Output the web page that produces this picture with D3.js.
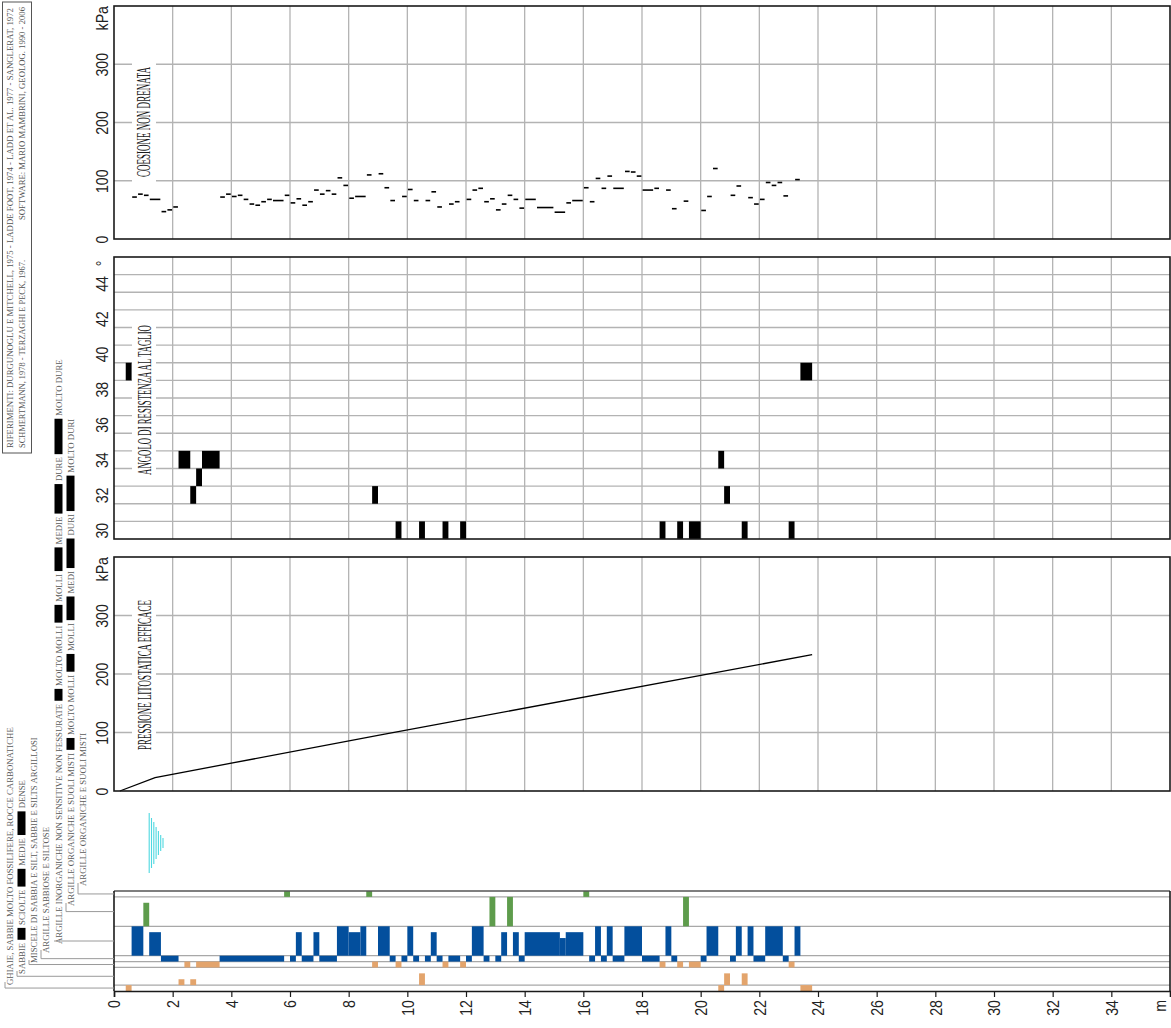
<!DOCTYPE html>
<html><head><meta charset="utf-8">
<script src="https://cdn.jsdelivr.net/npm/d3@7"></script>
<style>body{margin:0;background:#fff}svg{display:block}</style>
</head><body><svg id="c" width="1171" height="1028"></svg>
<script>
// ---------------- DATA ----------------
const depthTicks = [0,2,4,6,8,10,12,14,16,18,20,22,24,26,28,30,32,34];
const kpaTicks = [0,100,200,300];
const angleTicks = [30,32,34,36,38,40,42,44];

// undrained cohesion [from m, to m, kPa]
const cohesion = [
 [0.6,0.8,72],[0.8,1.0,77],[1.0,1.2,75],[1.2,1.6,68],[1.6,1.8,47],[1.8,2.0,50],[2.0,2.2,55],
 [3.6,3.8,72],[3.8,4.0,77],[4.0,4.2,73],[4.2,4.4,75],[4.4,4.6,68],[4.6,4.8,60],[4.8,5.0,58],
 [5.0,5.2,64],[5.2,5.4,68],[5.4,5.8,66],[5.8,6.0,75],[6.0,6.2,62],[6.2,6.4,69],[6.4,6.6,58],
 [6.6,6.8,64],[6.8,7.0,84],[7.0,7.2,77],[7.2,7.4,83],[7.4,7.6,77],[7.6,7.8,105],[7.8,8.0,92],
 [8.0,8.2,70],[8.2,8.6,73],[8.6,8.8,110],[9.0,9.2,112],[9.2,9.4,88],[9.4,9.6,66],[9.8,10.0,73],
 [10.0,10.2,85],[10.2,10.4,66],[10.6,10.8,66],[10.8,11.0,81],[11.0,11.2,55],[11.4,11.6,60],
 [11.6,11.8,64],[12.0,12.2,68],[12.2,12.4,84],[12.4,12.6,87],[12.6,12.8,64],[12.8,13.0,69],
 [13.0,13.2,50],[13.2,13.4,60],[13.4,13.6,75],[13.6,13.8,68],[13.8,14.0,53],[14.0,14.4,68],
 [14.4,15.0,54],[15.0,15.4,46],[15.4,15.6,62],[15.6,16.0,66],[16.0,16.2,88],[16.2,16.4,64],
 [16.4,16.6,104],[16.6,16.8,87],[16.8,17.0,108],[17.0,17.4,87],[17.4,17.6,116],[17.6,17.8,115],
 [17.8,18.0,108],[18.0,18.4,84],[18.4,18.6,87],[18.8,19.0,84],[19.0,19.2,52],[19.4,19.6,65],
 [20.0,20.2,49],[20.2,20.4,73],[20.4,20.6,121],[21.0,21.2,75],[21.2,21.4,91],[21.6,21.8,71],
 [21.8,22.0,60],[22.0,22.2,68],[22.2,22.4,97],[22.4,22.6,92],[22.6,22.8,97],[22.8,23.0,74],
 [23.2,23.4,102]
];

// friction angle [from m, to m, degrees]
const angle = [
 [0.4,0.6,39],[2.2,2.6,34],[2.6,2.8,32],[2.8,3.0,33],[3.0,3.6,34],[8.8,9.0,32],[9.6,9.8,30],
 [10.4,10.6,30],[11.2,11.4,30],[11.8,12.0,30],[18.6,18.8,30],[19.2,19.4,30],[19.6,20.0,30],
 [20.6,20.8,34],[20.8,21.0,32],[21.4,21.6,30],[23.0,23.2,30],[23.4,23.8,39]
];

// effective lithostatic pressure [depth m, kPa]
const pressure = [[0.2,0],[1.4,23],[9.0,95],[23.8,233]];
const waterTable = 1.2;

// stratigraphy rows (top to bottom) and number of consistency levels
const rowKeys   = ["T","AO","AI","AS","M","S","G"];
const rowLevels = [1,5,5,1,1,3,1];
// [from m, to m, row, level]
const strata = [
 [0.4,0.6,"G",1],[0.6,1.0,"AI",5],[1.0,1.2,"AO",4],[1.2,1.6,"AI",4],[1.6,2.2,"AS",1],
 [2.2,2.4,"S",1],[2.4,2.6,"M",1],[2.6,2.8,"S",1],[2.8,3.6,"M",1],[3.6,5.8,"AS",1],
 [5.8,6.0,"T",1],[6.0,6.2,"AS",1],[6.2,6.4,"AI",4],[6.4,6.8,"AS",1],[6.8,7.0,"AI",4],
 [7.0,7.6,"AS",1],[7.6,8.0,"AI",5],[8.0,8.4,"AI",4],[8.4,8.6,"AI",5],[8.6,8.8,"T",1],
 [8.8,9.0,"M",1],[9.0,9.4,"AI",5],[9.4,9.6,"AS",1],[9.6,9.8,"M",1],[9.8,10.0,"AS",1],
 [10.0,10.2,"AI",5],[10.2,10.4,"AS",1],[10.4,10.6,"S",2],[10.6,10.8,"AS",1],[10.8,11.0,"AI",4],
 [11.0,11.2,"AS",1],[11.2,11.4,"M",1],[11.4,11.8,"AS",1],[11.8,12.0,"M",1],[12.0,12.2,"AS",1],
 [12.2,12.6,"AI",5],[12.6,12.8,"AS",1],[12.8,13.0,"AO",5],[13.0,13.2,"AS",1],[13.2,13.4,"AI",4],
 [13.4,13.6,"AO",5],[13.6,13.8,"AI",4],[13.8,14.0,"AS",1],[14.0,15.2,"AI",4],[15.2,15.4,"AI",3],
 [15.4,16.0,"AI",4],[16.0,16.2,"T",1],[16.2,16.4,"AS",1],[16.4,16.6,"AI",5],[16.6,16.8,"AS",1],
 [16.8,17.0,"AI",5],[17.0,17.4,"AS",1],[17.4,18.0,"AI",5],[18.0,18.6,"AS",1],[18.6,18.8,"M",1],
 [18.8,19.0,"AI",5],[19.0,19.2,"AS",1],[19.2,19.4,"M",1],[19.4,19.6,"AO",5],[19.6,20.0,"M",1],
 [20.0,20.2,"AS",1],[20.2,20.6,"AI",5],[20.6,20.8,"G",1],[20.8,21.0,"S",2],[21.0,21.2,"AS",1],
 [21.2,21.4,"AI",5],[21.4,21.6,"S",2],[21.6,21.8,"AI",5],[21.8,22.2,"AS",1],[22.2,22.8,"AI",5],
 [22.8,23.0,"AS",1],[23.0,23.2,"M",1],[23.2,23.4,"AI",5],[23.4,23.8,"G",1]
];

const panelTitles = ["COESIONE NON DRENATA","ANGOLO DI RESISTENZA AL TAGLIO","PRESSIONE LITOSTATICA EFFICACE"];
const refLines = [
 "RIFERIMENTI: DURGUNOGLU E MITCHELL, 1975 - LADDE FOOT, 1974 - LADD ET AL. 1977 - SANGLERAT, 1972",
 "SCHMERTMANN, 1978 - TERZAGHI E PECK, 1967.",
 "SOFTWARE: MARIO MAMBRINI, GEOLOG. 1990 - 2006"
];
// legend: row key + pieces (strings = text, numbers = swatch level)
const legendItems = [
 ["G",  ["GHIAIE, SABBIE MOLTO FOSSILIFERE, ROCCE CARBONATICHE"]],
 ["S",  ["SABBIE",1,"SCIOLTE",2,"MEDIE",3,"DENSE"]],
 ["M",  ["MISCELE DI SABBIA E SILT, SABBIE E SILTS ARGILLOSI"]],
 ["AS", ["ARGILLE SABBIOSE E SILTOSE"]],
 ["AI", ["ARGILLE INORGANICHE NON SENSITIVE NON FESSURATE",1,"MOLTO MOLLI",2,"MOLLI",3,"MEDIE",4,"DURE",5,"MOLTO DURE"]],
 ["AO", ["ARGILLE ORGANICHE E SUOLI MISTI",1,"MOLTO MOLLI",2,"MOLLI",3,"MEDI",4,"DURI",5,"MOLTO DURI"]],
 ["T",  ["ARGILLE ORGANICHE E SUOLI MISTI"]]
];

// ---------------- STYLE / LAYOUT ----------------
const rowColor = {T:"#5e9c4c",AO:"#5e9c4c",AI:"#034f9d",AS:"#034f9d",M:"#e3a46c",S:"#e3a46c",G:"#e3a46c"};
const GRID = "#b3b3b3", FRAME = "#1a1a1a";
const svg = d3.select("#c");
const X0 = 114, X1 = 1170;
const x = d3.scaleLinear().domain([0,36]).range([X0,X1]);
const yC = d3.scaleLinear().domain([0,400]).range([239,6]);
const yA = d3.scaleLinear().domain([29.5,45.5]).range([539,257]);
const yP = d3.scaleLinear().domain([0,400]).range([791,557]);
const S_TOP = 891, S_BOT = 991;
const unit = (S_BOT - S_TOP) / d3.sum(rowLevels);
const rowTop = {}, rowBot = {};
{ let acc = S_TOP; rowKeys.forEach((k,i)=>{ rowTop[k]=acc; acc += rowLevels[i]*unit; rowBot[k]=acc; }); }

const gridDepths = depthTicks.filter(d=>d>0);

function vgrid(y0,y1){
  svg.append("g").selectAll("line").data(gridDepths).join("line")
    .attr("x1",d=>x(d)).attr("x2",d=>x(d)).attr("y1",y0).attr("y2",y1)
    .attr("stroke",GRID).attr("stroke-width",1.3);
}
function hgrid(scale, vals){
  svg.append("g").selectAll("line").data(vals).join("line")
    .attr("x1",X0).attr("x2",X1).attr("y1",d=>scale(d)).attr("y2",d=>scale(d))
    .attr("stroke",GRID).attr("stroke-width",1.3);
}
function frame(y0,y1){
  svg.append("rect").attr("x",X0).attr("y",y0).attr("width",X1-X0).attr("height",y1-y0)
    .attr("fill","none").attr("stroke",FRAME).attr("stroke-width",1.6);
}
function leftAxis(scale, vals, unitLabel, unitAt){
  const g = svg.append("g").attr("transform",`translate(${X0},0)`)
    .call(d3.axisLeft(scale).tickValues(vals).tickSize(0));
  g.select(".domain").remove();
  g.selectAll("text").attr("x",0).attr("dy","0.36em").attr("text-anchor","middle")
    .attr("transform","translate(-11.5,0) rotate(-90) scale(0.86,1)")
    .attr("font-family","Liberation Sans, Arial, sans-serif").attr("font-size",16.5).attr("fill","#222");
  g.append("text").attr("transform",`translate(-11.5,${scale(unitAt)}) rotate(-90) scale(0.86,1)`)
    .attr("dy","0.36em").attr("text-anchor","end")
    .attr("font-family","Liberation Sans, Arial, sans-serif").attr("font-size",16.5).attr("fill","#222")
    .text(unitLabel);
}
function panelTitle(txt, cx, cy, len, box){
  svg.append("rect").attr("x",box[0]).attr("y",box[1]).attr("width",box[2]).attr("height",box[3]).attr("fill","#fff");
  const t = svg.append("text").attr("dy","0.35em").attr("text-anchor","middle")
    .attr("font-family","Liberation Serif, Times New Roman, serif").attr("font-size",19)
    .attr("fill","#1a1a1a").text(txt);
  const nat = t.node().getComputedTextLength();
  t.attr("transform",`translate(${cx},${cy}) rotate(-90) scale(${len/nat},1)`);
}

// ---------- Panel 1: cohesion ----------
vgrid(6,239); hgrid(yC,[100,200,300]);
panelTitle(panelTitles[0],143.5,122,110,[132,56,24,134]);
svg.append("g").selectAll("line").data(cohesion).join("line")
  .attr("x1",d=>x(d[0])+0.6).attr("x2",d=>x(d[1])-0.6)
  .attr("y1",d=>yC(d[2])).attr("y2",d=>yC(d[2]))
  .attr("stroke","#000").attr("stroke-width",1.6);
frame(6,239);
leftAxis(yC,kpaTicks,"kPa",400);

// ---------- Panel 2: friction angle ----------
vgrid(257,539); hgrid(yA,d3.range(30.5,45.5,1));
panelTitle(panelTitles[1],144,400,150,[132,318,24,164]);
svg.append("g").selectAll("rect").data(angle).join("rect")
  .attr("x",d=>x(d[0])).attr("width",d=>x(d[1])-x(d[0]))
  .attr("y",d=>yA(d[2]+0.5)).attr("height",d=>yA(d[2]-0.5)-yA(d[2]+0.5))
  .attr("fill","#000");
frame(257,539);
leftAxis(yA,angleTicks,"°",45.3);

// ---------- Panel 3: effective pressure ----------
vgrid(557,791); hgrid(yP,[100,200,300]);
panelTitle(panelTitles[2],144,675,150,[132,594,24,162]);
svg.append("path").datum(pressure)
  .attr("d",d3.line().x(d=>x(d[0])).y(d=>yP(d[1])))
  .attr("fill","none").attr("stroke","#000").attr("stroke-width",1.3);
frame(557,791);
leftAxis(yP,kpaTicks,"kPa",400);

// ---------- water table symbol ----------
const wtLens = [60,50,42,32,24,16,10];
svg.append("g").selectAll("line").data(wtLens).join("line")
  .attr("x1",(d,i)=>x(waterTable)+i*2.3).attr("x2",(d,i)=>x(waterTable)+i*2.3)
  .attr("y1",d=>843-d/2).attr("y2",d=>843+d/2)
  .attr("stroke","#4fd8e0").attr("stroke-width",1.1);

// ---------- Stratigraphy ----------
svg.append("g").selectAll("line").data(rowKeys.slice(1)).join("line")
  .attr("x1",X0).attr("x2",X1).attr("y1",k=>rowTop[k]).attr("y2",k=>rowTop[k])
  .attr("stroke","#a8a8a8").attr("stroke-width",1.3);
svg.append("g").selectAll("rect").data(strata).join("rect")
  .attr("x",d=>x(d[0])).attr("width",d=>x(d[1])-x(d[0]))
  .attr("y",d=>rowBot[d[2]]-d[3]*unit).attr("height",d=>d[3]*unit)
  .attr("fill",d=>rowColor[d[2]]);
svg.append("line").attr("x1",X0).attr("x2",X1).attr("y1",S_TOP).attr("y2",S_TOP).attr("stroke","#555").attr("stroke-width",1.6);
svg.append("line").attr("x1",X0).attr("x2",X0).attr("y1",S_TOP).attr("y2",S_BOT).attr("stroke",FRAME).attr("stroke-width",1.6);
svg.append("line").attr("x1",X1).attr("x2",X1).attr("y1",S_TOP).attr("y2",S_BOT).attr("stroke",FRAME).attr("stroke-width",1.6);

// bottom axis
const gx = svg.append("g").attr("transform",`translate(0,${S_BOT})`)
  .call(d3.axisBottom(x).tickValues(depthTicks.concat([36])).tickSize(6).tickFormat(d=>d===36?"m":d));
gx.select(".domain").attr("stroke",FRAME).attr("stroke-width",1.6);
gx.selectAll(".tick line").attr("stroke",FRAME).attr("stroke-width",1.2);
gx.selectAll(".tick").filter(d=>d===36).select("line").remove();
gx.selectAll("text").attr("y",0).attr("dy","0.36em").attr("text-anchor","end")
  .attr("transform",d=>`translate(${d===36?-10:0},9) rotate(-90) scale(0.86,1)`)
  .attr("font-family","Liberation Sans, Arial, sans-serif").attr("font-size",16.5).attr("fill","#222");

// ---------- References box ----------
const refG = svg.append("g").attr("font-family","Liberation Serif, Times New Roman, serif").attr("font-size",7.6).attr("fill","#555");
svg.append("rect").attr("x",2.5).attr("y",2).attr("width",29).attr("height",451).attr("fill","none").attr("stroke","#555").attr("stroke-width",1);
refG.append("text").attr("transform","translate(10.5,448) rotate(-90)").attr("dy","0.35em").attr("textLength",440).attr("lengthAdjust","spacingAndGlyphs").text(refLines[0]);
refG.append("text").attr("transform","translate(22.5,448) rotate(-90)").attr("dy","0.35em").attr("textLength",188).attr("lengthAdjust","spacingAndGlyphs").text(refLines[1]);
refG.append("text").attr("transform","translate(22.5,7) rotate(-90)").attr("dy","0.35em").attr("text-anchor","end").attr("textLength",213).attr("lengthAdjust","spacingAndGlyphs").text(refLines[2]);

// ---------- Legend ----------
const legX = {G:10,S:22,M:34,AS:46,AI:59,AO:71,T:83};
const legStart = {G:985,S:974,M:963,AS:953,AI:944,AO:906,T:886};
const LF = 1.1; // horizontal stretch of legend text
const legG = svg.append("g").attr("font-family","Liberation Serif, Times New Roman, serif").attr("font-size",8).attr("fill","#5a5a5a");
legendItems.forEach(([k,pieces])=>{
  const lx = legX[k]; let y = legStart[k];
  const cy = (rowTop[k]+rowBot[k])/2;
  svg.append("path").attr("d",`M${lx-5},${y-3}L${lx-5},${cy}L${X0},${cy}`)
    .attr("fill","none").attr("stroke","#9a9a9a").attr("stroke-width",1);
  pieces.forEach(p=>{
    if (typeof p === "string"){
      const t = legG.append("text").attr("transform",`translate(${lx},${y}) rotate(-90) scale(${LF},1)`)
        .attr("dy","0.35em").text(p);
      y -= t.node().getComputedTextLength()*LF + 3;
    } else {
      const len = 6 + p*unit;
      legG.append("rect").attr("x",lx-4.5).attr("y",y-len).attr("width",8).attr("height",len).attr("fill","#000");
      y -= len + 3;
    }
  });
});
</script>
</body></html>
